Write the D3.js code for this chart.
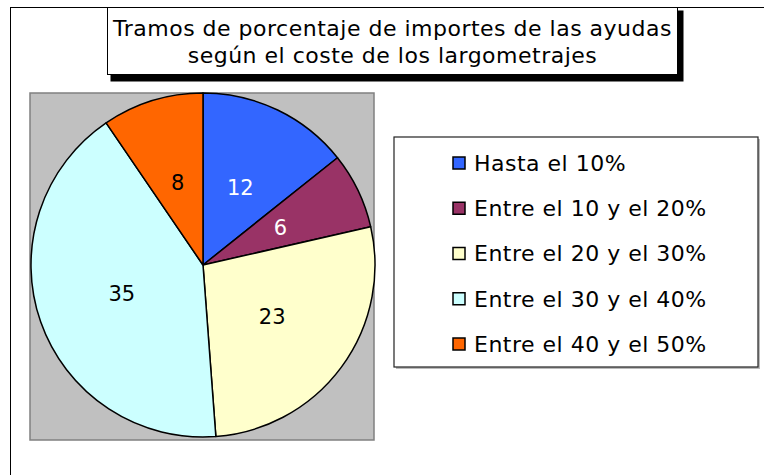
<!DOCTYPE html>
<html>
<head>
<meta charset="utf-8">
<script src="https://cdn.jsdelivr.net/npm/d3@7"></script>
<style>
  body { margin: 0; background: #fff; }
  text { font-family: "DejaVu Sans", Verdana, sans-serif; }
</style>
</head>
<body>
<div id="chart"></div>
<script>
// data
var categories = ["Hasta el 10%", "Entre el 10 y el 20%", "Entre el 20 y el 30%", "Entre el 30 y el 40%", "Entre el 40 y el 50%"];
var values = [12, 6, 23, 35, 8];
var colors = ["#3366FF", "#993366", "#FFFFCC", "#CCFFFF", "#FF6600"];
var labelColors = ["#fff", "#fff", "#000", "#000", "#000"];
var titleLines = ["Tramos de porcentaje de importes de las ayudas", "según el coste de los largometrajes"];

var data = categories.map(function (c, i) {
    return { cat: c, value: values[i], color: colors[i], lab: labelColors[i] };
});

var width = 764, height = 475;

var svg = d3.select("#chart").append("svg")
    .attr("width", width)
    .attr("height", height);

// outer chart frame (runs off the right/bottom of the picture)
svg.append("rect")
    .attr("x", 10.5).attr("y", 7.5)
    .attr("width", 800).attr("height", 500)
    .attr("fill", "#fff")
    .attr("stroke", "#000")
    .attr("stroke-width", 1);

//=========== plot area + pie ===========
var plot = { x: 30, y: 93, w: 344, h: 347 };
svg.append("rect")
    .attr("x", plot.x).attr("y", plot.y)
    .attr("width", plot.w).attr("height", plot.h)
    .attr("fill", "#C0C0C0")
    .attr("stroke", "#808080")
    .attr("stroke-width", 1.5);

var radius = 172;
var g = svg.append("g")
    .attr("transform", "translate(" + 203 + "," + 265 + ")");

var pie = d3.pie().sort(null).value(function (d) { return d.value; });
var arc = d3.arc().innerRadius(0).outerRadius(radius);

var arcs = pie(data);

g.selectAll("path")
    .data(arcs)
    .enter()
    .append("path")
    .attr("d", arc)
    .attr("fill", function (d) { return d.data.color; })
    .attr("stroke", "#000")
    .attr("stroke-width", 1.5)
    .attr("stroke-linejoin", "round");

g.selectAll("text.lbl")
    .data(arcs)
    .enter()
    .append("text")
    .attr("class", "lbl")
    .attr("transform", function (d) { return "translate(" + arc.centroid(d) + ")"; })
    .attr("text-anchor", "middle")
    .attr("dy", "0.36em")
    .style("font-size", "21px")
    .attr("fill", function (d) { return d.data.lab; })
    .text(function (d) { return d.data.value; });

//=========== title box ===========
var tb = { x: 107.5, y: 7.5, w: 570, h: 67 };
svg.append("rect")
    .attr("x", tb.x + 3).attr("y", tb.y + 3)
    .attr("width", tb.w + 3).attr("height", tb.h + 4)
    .attr("fill", "#000");
svg.append("rect")
    .attr("x", tb.x).attr("y", tb.y)
    .attr("width", tb.w).attr("height", tb.h)
    .attr("fill", "#fff")
    .attr("stroke", "#000")
    .attr("stroke-width", 1);

svg.selectAll("text.title")
    .data(titleLines)
    .enter()
    .append("text")
    .attr("class", "title")
    .attr("x", tb.x + tb.w / 2)
    .attr("y", function (d, i) { return 36 + i * 27; })
    .attr("text-anchor", "middle")
    .style("font-size", "22px")
    .style("letter-spacing", "0.5px")
    .attr("fill", "#000")
    .text(function (d) { return d; });

//=========== legend ===========
var lg = { x: 394, y: 137, w: 364, h: 230 };
svg.append("rect")
    .attr("x", lg.x + 2).attr("y", lg.y + 2)
    .attr("width", lg.w).attr("height", lg.h)
    .attr("fill", "#bbb");
svg.append("rect")
    .attr("x", lg.x).attr("y", lg.y)
    .attr("width", lg.w).attr("height", lg.h)
    .attr("fill", "#fff")
    .attr("stroke", "#222")
    .attr("stroke-width", 1.2);

var ly = d3.scalePoint()
    .domain(categories)
    .range([163, 344]);

var item = svg.selectAll("g.item")
    .data(data)
    .enter()
    .append("g")
    .attr("class", "item")
    .attr("transform", function (d) { return "translate(0," + ly(d.cat) + ")"; });

item.append("rect")
    .attr("x", 453).attr("y", -6)
    .attr("width", 12).attr("height", 12)
    .attr("fill", function (d) { return d.color; })
    .attr("stroke", "#000")
    .attr("stroke-width", 1.5);

item.append("text")
    .attr("x", 474)
    .attr("dy", "0.36em")
    .style("font-size", "22px")
    .style("letter-spacing", "0.5px")
    .attr("fill", "#000")
    .text(function (d) { return d.cat; });
</script>
</body>
</html>
